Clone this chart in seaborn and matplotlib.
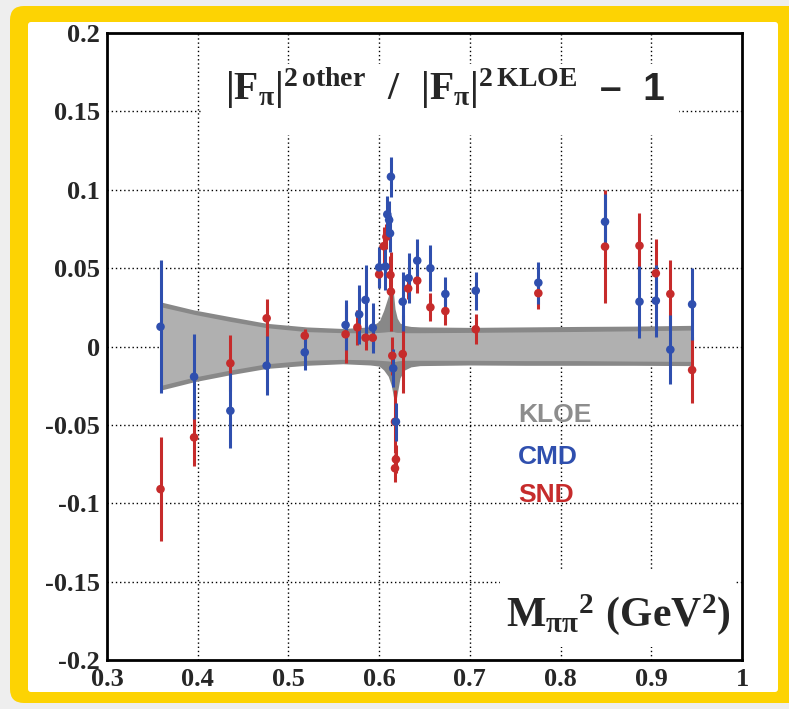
import numpy as np
import pandas as pd
import matplotlib
matplotlib.use("Agg")
import matplotlib.pyplot as plt
import seaborn as sns
from matplotlib.patches import FancyBboxPatch, Rectangle
from matplotlib.ticker import MultipleLocator, FixedLocator

# ---------------- data ----------------
cmd_x = [0.359, 0.396, 0.436, 0.476, 0.518, 0.563, 0.578, 0.585, 0.593, 0.600, 0.607,
         0.609, 0.611, 0.612, 0.613, 0.6155, 0.6185, 0.626, 0.6325, 0.642, 0.6565, 0.673,
         0.7065, 0.7755, 0.849, 0.887, 0.905, 0.921, 0.945]
cmd_y = [0.0126, -0.0193, -0.041, -0.0122, -0.0037, 0.0137, 0.0205, 0.0297, 0.0120, 0.0505, 0.051,
         0.0843, 0.0807, 0.0722, 0.1083, -0.0139, -0.048, 0.0286, 0.0436, 0.0548, 0.0499, 0.0335,
         0.0356, 0.0407, 0.0796, 0.0286, 0.0292, -0.0020, 0.0269]
cmd_err = [0.0425, 0.027, 0.024, 0.019, 0.011, 0.016, 0.019, 0.022, 0.016, 0.013, 0.015,
           0.012, 0.012, 0.012, 0.0128, 0.012, 0.012, 0.019, 0.016, 0.014, 0.0146, 0.011,
           0.012, 0.0134, 0.018, 0.023, 0.023, 0.022, 0.023]

snd_x = [0.359, 0.396, 0.436, 0.476, 0.518, 0.563, 0.576, 0.585, 0.593, 0.600, 0.605,
         0.608, 0.6125, 0.613, 0.6145, 0.626, 0.6175, 0.6185, 0.6175, 0.632, 0.642, 0.6565,
         0.673, 0.7065, 0.7755, 0.849, 0.887, 0.905, 0.921, 0.945]
snd_y = [-0.091, -0.058, -0.0107, 0.018, 0.0069, 0.0078, 0.0122, 0.0056, 0.0056, 0.046, 0.064,
         0.070, 0.0456, 0.035, -0.0059, -0.0048, -0.048, -0.072, -0.0777, 0.037, 0.042, 0.025,
         0.0226, 0.011, 0.034, 0.0637, 0.0643, 0.0467, 0.0335, -0.015]
snd_err = [0.033, 0.018, 0.018, 0.012, 0.0045, 0.0185, 0.011, 0.008, 0.006, 0.008, 0.012,
           0.008, 0.012, 0.025, 0.012, 0.025, 0.02, 0.009, 0.009, 0.007, 0.008, 0.009,
           0.009, 0.0096, 0.01, 0.036, 0.021, 0.022, 0.022, 0.021]

band_x = [0.358, 0.396, 0.436, 0.476, 0.52, 0.56, 0.59, 0.600, 0.605, 0.610, 0.6135,
          0.616, 0.6175, 0.620, 0.623, 0.628, 0.635, 0.645, 0.70, 0.76, 0.82, 0.88, 0.945]
band_outer_hi = [0.0286, 0.0233, 0.019, 0.0148, 0.0125, 0.0115, 0.0125, 0.016, 0.023, 0.032, 0.039,
                 0.033, 0.024, 0.018, 0.015, 0.0135, 0.0128, 0.0125, 0.0122, 0.0125, 0.0128, 0.013, 0.0135]
band_outer_lo = [-0.028, -0.0225, -0.018, -0.014, -0.012, -0.011, -0.0118, -0.0125, -0.015, -0.019, -0.025,
                 -0.033, -0.038, -0.030, -0.020, -0.015, -0.013, -0.0122, -0.0118, -0.012, -0.012, -0.012, -0.0122]
band_inner_hi = [0.0255, 0.0205, 0.016, 0.012, 0.0095, 0.0088, 0.0088, 0.009, 0.0092, 0.0095, 0.0095,
                 0.0095, 0.0092, 0.009, 0.009, 0.0088, 0.0088, 0.0088, 0.009, 0.0093, 0.0096, 0.0100, 0.0105]
band_inner_lo = [-0.025, -0.0195, -0.015, -0.011, -0.0088, -0.0082, -0.0085, -0.0088, -0.009, -0.0092, -0.0095,
                 -0.0095, -0.0095, -0.0092, -0.009, -0.0088, -0.0088, -0.0088, -0.0088, -0.009, -0.009, -0.0093, -0.0095]

x_ticks = [0.3, 0.4, 0.5, 0.6, 0.7, 0.8, 0.9, 1.0]
x_tick_labels = ["0.3", "0.4", "0.5", "0.6", "0.7", "0.8", "0.9", "1"]
y_ticks = [-0.2, -0.15, -0.1, -0.05, 0.0, 0.05, 0.1, 0.15, 0.2]
y_tick_labels = ["-0.2", "-0.15", "-0.1", "-0.05", "0", "0.05", "0.1", "0.15", "0.2"]
legend_labels = ["KLOE", "CMD", "SND"]

# ---------------- style ----------------
BLUE = "#2f4fae"
RED = "#c62b2b"
DARK = "#888888"
LIGHT = "#b0b0b0"
KLOE_TXT = "#8d8d8d"

sns.set_theme(style="white")
plt.rcParams['font.family'] = ['Liberation Serif', 'DejaVu Serif']
plt.rcParams['axes.unicode_minus'] = False
plt.rcParams['mathtext.fontset'] = 'custom'
plt.rcParams['mathtext.rm'] = 'Liberation Serif:bold'
plt.rcParams['mathtext.it'] = 'Liberation Serif:bold'
plt.rcParams['mathtext.bf'] = 'Liberation Serif:bold'

W, H = 789, 709
fig = plt.figure(figsize=(W / 100, H / 100), dpi=100, facecolor="#eeeeee")

# yellow frame + white inner panel (in inches)
fig.patches.append(FancyBboxPatch((10 / 100, 6 / 100), (W + 20 - 10) / 100, (703 - 6) / 100,
                                  boxstyle="round,pad=0,rounding_size=0.14",
                                  transform=fig.dpi_scale_trans, facecolor="#fdd303",
                                  edgecolor="none", zorder=-3))
fig.patches.append(FancyBboxPatch((28 / 100, 17 / 100), (778 - 28) / 100, (687 - 17) / 100,
                                  boxstyle="round,pad=0,rounding_size=0.03",
                                  transform=fig.dpi_scale_trans, facecolor="white",
                                  edgecolor="none", zorder=-2))

ax = fig.add_axes([107 / W, 49 / H, 635 / W, 627 / H])
ax.set_zorder(1)
ax.set_facecolor("none")
ax.set_xlim(0.3, 1.0)
ax.set_ylim(-0.2, 0.2)

# grid
for xv in x_ticks[1:-1]:
    ax.axvline(xv, color="black", lw=1.0, ls=(0, (1.0, 2.0)), zorder=1)
for yv in y_ticks[1:-1]:
    ax.axhline(yv, color="black", lw=1.0, ls=(0, (1.0, 2.0)), zorder=1)

# white boxes behind title and x-label
ax.add_patch(Rectangle((0.405, 0.135), 0.525, 0.045, facecolor="white", edgecolor="none", zorder=1.5))
ax.add_patch(Rectangle((0.733, -0.192), 0.26, 0.05, facecolor="white", edgecolor="none", zorder=1.5))

# KLOE band
ax.fill_between(band_x, band_outer_lo, band_outer_hi, color=DARK, lw=0, zorder=2)
ax.fill_between(band_x, band_inner_lo, band_inner_hi, color=LIGHT, lw=0, zorder=2.1)

# error bars
ax.vlines(snd_x, np.array(snd_y) - np.array(snd_err), np.array(snd_y) + np.array(snd_err),
          color=RED, lw=2.2, zorder=3)
ax.vlines(cmd_x, np.array(cmd_y) - np.array(cmd_err), np.array(cmd_y) + np.array(cmd_err),
          color=BLUE, lw=2.2, zorder=3.1)

snd_df = pd.DataFrame({"x": snd_x, "y": snd_y})
cmd_df = pd.DataFrame({"x": cmd_x, "y": cmd_y})
sns.scatterplot(data=snd_df, x="x", y="y", color=RED, s=38, edgecolor="none", ax=ax, zorder=4)
sns.scatterplot(data=cmd_df, x="x", y="y", color=BLUE, s=38, edgecolor="none", ax=ax, zorder=4.1)

# ticks
ax.xaxis.set_major_locator(FixedLocator(x_ticks))
ax.yaxis.set_major_locator(FixedLocator(y_ticks))
ax.set_xticklabels(x_tick_labels)
ax.set_yticklabels(y_tick_labels)
ax.xaxis.set_minor_locator(MultipleLocator(0.02))
ax.yaxis.set_minor_locator(MultipleLocator(0.01))
ax.tick_params(which="major", direction="in", length=12, width=1.5, color="black",
               top=False, right=False, labelsize=19)
ax.tick_params(axis="x", which="major", pad=6)
ax.tick_params(axis="y", which="major", pad=5)
ax.tick_params(which="minor", direction="in", length=6, width=1.2, color="black",
               top=False, right=False)
for lab in ax.get_xticklabels() + ax.get_yticklabels():
    lab.set_fontweight("bold")
for s in ax.spines.values():
    s.set_linewidth(2.0)
    s.set_color("black")
    s.set_zorder(5)
ax.set_xlabel("")
ax.set_ylabel("")

# title
ax.text(0.430, 0.1575, r"$\mathrm{|F_{\pi}|^{2\,other}\ \ /\ \ |F_{\pi}|^{2\,KLOE}}$",
        fontsize=28.5, ha="left", va="baseline", zorder=6)
ax.text(0.843, 0.1575, "–  1", fontsize=28, fontweight="bold", family=["Liberation Sans"],
        ha="left", va="baseline", zorder=6)

# x label
ax.text(0.987, -0.178, r"$\mathrm{M_{\pi\pi}}^{\mathrm{2}}\ \mathrm{(GeV^{2})}$",
        fontsize=30, ha="right", va="baseline", zorder=6)

# legend text
leg_cols = [KLOE_TXT, BLUE, RED]
leg_y = [-0.0435, -0.0705, -0.0945]
for lab, col, yy in zip(legend_labels, leg_cols, leg_y):
    ax.text(0.753, yy, lab, color=col, fontsize=19, fontweight="bold",
            family=["Liberation Sans"], ha="left", va="center", zorder=6)

fig.savefig("out.png", dpi=100, facecolor=fig.get_facecolor())
